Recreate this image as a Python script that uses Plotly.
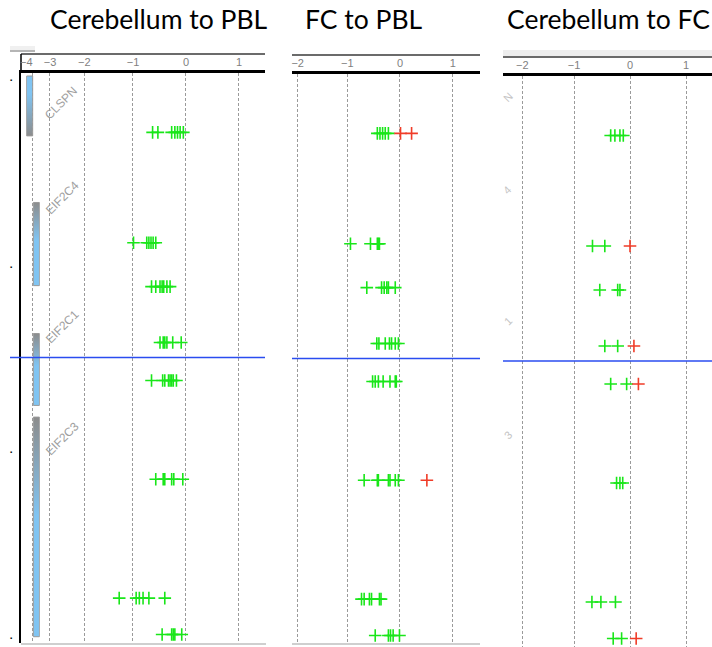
import plotly.graph_objects as go

# ---------------- data ----------------
panel_titles = ["Cerebellum to PBL", "FC to PBL", "Cerebellum to FC"]

# SNP row positions (relative genomic position, arbitrary units, top = 0)
snp_pos = [59.5, 170, 214, 270, 308, 407, 526, 562.5]

# fold changes per SNP row (green = below threshold, red = above)
cb_pbl_green = [
    [-0.63, -0.53, -0.27, -0.21, -0.16, -0.11, -0.05],
    [-0.99, -0.74, -0.70, -0.66, -0.62, -0.57],
    [-0.65, -0.57, -0.49, -0.45, -0.42, -0.36, -0.30],
    [-0.49, -0.43, -0.40, -0.36, -0.25, -0.09],
    [-0.65, -0.44, -0.40, -0.33, -0.30, -0.27, -0.24, -0.18],
    [-0.57, -0.43, -0.40, -0.27, -0.23, -0.06],
    [-1.26, -0.94, -0.88, -0.81, -0.70, -0.40],
    [-0.45, -0.27, -0.24, -0.21, -0.08],
]
cb_pbl_red = [[], [], [], [], [], [], [], []]

fc_pbl_green = [
    [-0.43, -0.38, -0.33, -0.28, -0.22],
    [-0.94, -0.56, -0.43, -0.41, -0.39],
    [-0.63, -0.35, -0.30, -0.25, -0.22, -0.09],
    [-0.44, -0.40, -0.28, -0.20, -0.16, -0.09, -0.03],
    [-0.52, -0.47, -0.41, -0.32, -0.19, -0.09, -0.07],
    [-0.68, -0.43, -0.41, -0.22, -0.19, -0.09, -0.03],
    [-0.73, -0.68, -0.58, -0.54, -0.39, -0.36],
    [-0.47, -0.22, -0.18, -0.13, -0.01],
]
fc_pbl_red = [[0.01, 0.22], [], [], [], [], [0.51], [], []]

cb_fc_green = [
    [-0.345, -0.27, -0.18, -0.12],
    [-0.67, -0.45],
    [-0.54, -0.22, -0.18],
    [-0.45, -0.22],
    [-0.345, -0.06],
    [-0.24, -0.18, -0.13],
    [-0.68, -0.52, -0.26],
    [-0.30, -0.15],
]
cb_fc_red = [[], [0.0], [], [0.07], [0.15], [], [], [0.11]]

# genes: name, start, end (same units as snp_pos), strand lane
gene_names = ["CLSPN", "EIF2C4", "EIF2C1", "EIF2C3"]
gene_start = [3, 129.7, 261, 344.7]
gene_end = [63, 213, 333, 564.7]
gene_lane = [0, 1, 1, 1]

highlight_pos = 285          # blue marker line
coord_ticks = [7, 194, 380, 566]  # genomic coordinate ticks (dots)

# axis tick labels (axis is compressed below -1)
p1_tickvals = [-2.887, -2.566, -1.919, -1, 0, 1]
p1_ticktext = ["", "\u22123", "\u22122", "\u22121", "0", "1"]
p2_tickvals = [-1.941, -1, 0, 1]
p2_ticktext = ["\u22122", "\u22121", "0", "1"]
p3_tickvals = [-1.923, -1, 0, 1]
p3_ticktext = ["\u22122", "\u22121", "0", "1"]

# ---------------- layout helpers ----------------
W, H = 712, 647
def fx(p):
    return p / W
def fy(p):
    return 1 - p / H

GREEN = "#19e619"
RED = "#f03c28"
BLUE = "#2a4df0"

fig = go.Figure()

panels = [
    ("x", "y", cb_pbl_green, cb_pbl_red),
    ("x2", "y2", fc_pbl_green, fc_pbl_red),
    ("x3", "y3", cb_fc_green, cb_fc_red),
]
for xa, ya, greens, reds in panels:
    for vals, col in ((greens, GREEN), (reds, RED)):
        xs, ys = [], []
        for pos, row in zip(snp_pos, vals):
            xs += row
            ys += [pos] * len(row)
        if xs:
            fig.add_trace(go.Scatter(
                x=xs, y=ys, xaxis=xa, yaxis=ya, mode="markers",
                marker=dict(symbol="cross-thin", size=9,
                            line=dict(color=col, width=1.6)),
                hoverinfo="x", showlegend=False))

# gene bars with gradient fill on a small gene-track axis
GENE_BLUE = "#80c4f2"
GENE_GRAY = "#8c8c8c"
for name, s, e, lane in zip(gene_names, gene_start, gene_end, gene_lane):
    x0, x1 = lane - 0.45, lane + 0.45
    if lane == 0:
        cs = [[0, GENE_BLUE], [0.3, GENE_BLUE], [1, GENE_GRAY]]
    else:
        cs = [[0, GENE_GRAY], [0.45, GENE_BLUE], [1, GENE_BLUE]]
    fig.add_trace(go.Scatter(
        x=[x0, x1, x1, x0, x0], y=[s, s, e, e, s], xaxis="x4", yaxis="y",
        mode="lines", fill="toself",
        fillgradient=dict(type="vertical", colorscale=cs, start=s, stop=e),
        line=dict(color="#9a9a9a", width=1), hoverinfo="skip",
        name=name, showlegend=False))

grid = dict(showgrid=True, gridcolor="#9a9a9a", gridwidth=1,
            griddash="3px,2px", zeroline=False, side="top",
            showline=True, linecolor="black", linewidth=3,
            ticks="", tickmode="array",
            tickfont=dict(family="Liberation Sans", size=11, color="#7f7f7f"),
            fixedrange=True)

fig.update_layout(
    width=W, height=H,
    margin=dict(l=0, r=0, t=0, b=0),
    paper_bgcolor="white", plot_bgcolor="rgba(0,0,0,0)",
    showlegend=False,
    xaxis=dict(domain=[fx(21), fx(265)], range=[-3.113, 1.491], anchor="y",
               tickvals=p1_tickvals, ticktext=p1_ticktext, **grid),
    xaxis2=dict(domain=[fx(292), fx(480)], range=[-2.049, 1.518], anchor="y2",
                tickvals=p2_tickvals, ticktext=p2_ticktext, **grid),
    xaxis3=dict(domain=[fx(503), fx(712)], range=[-2.268, 1.464], anchor="y3",
                tickvals=p3_tickvals, ticktext=p3_ticktext, **grid),
    xaxis4=dict(domain=[fx(26.2), fx(39.8)], range=[-0.5, 1.5], anchor="y",
                visible=False, fixedrange=True),
    yaxis=dict(domain=[fy(643), fy(73)], range=[571, 0], anchor="x",
               showgrid=False, zeroline=False, showline=True,
               linecolor="black", linewidth=1.5,
               tickmode="array", tickvals=coord_ticks,
               ticktext=["\u25aa"] * len(coord_ticks), ticks="",
               ticklabelstandoff=6,
               tickfont=dict(size=6, color="black"), fixedrange=True),
    yaxis2=dict(domain=[fy(644), fy(74)], range=[571, 0], anchor="x2",
                visible=False, fixedrange=True),
    yaxis3=dict(domain=[fy(647), fy(76)], range=[571, 0], anchor="x3",
                visible=False, fixedrange=True),
)

shapes = []
# header top lines
for x0, x1, y in ((21, 265, 54), (292, 480, 55), (503, 712, 57)):
    shapes.append(dict(type="line", xref="paper", yref="paper",
                       x0=fx(x0), x1=fx(x1), y0=fy(y), y1=fy(y),
                       line=dict(color="#3a3a3a", width=1.5)))
# left border of panel 1 header
shapes.append(dict(type="line", xref="paper", yref="paper",
                   x0=fx(21), x1=fx(21), y0=fy(54), y1=fy(73),
                   line=dict(color="black", width=1.5)))
# top-left tab
shapes.append(dict(type="rect", xref="paper", yref="paper",
                   x0=fx(10), x1=fx(35), y0=fy(51), y1=fy(46),
                   fillcolor="#f0f0f0", line=dict(width=0)))
shapes.append(dict(type="line", xref="paper", yref="paper",
                   x0=fx(10), x1=fx(35), y0=fy(51), y1=fy(51),
                   line=dict(color="#b5b5b5", width=2)))
# panel 3 header band
shapes.append(dict(type="rect", xref="paper", yref="paper",
                   x0=fx(503), x1=fx(712), y0=fy(56), y1=fy(50),
                   fillcolor="#eeeeee", line=dict(width=0)))
# bottom light borders
for x0, x1 in ((21, 266), (292, 480)):
    shapes.append(dict(type="line", xref="paper", yref="paper",
                       x0=fx(x0), x1=fx(x1), y0=fy(644), y1=fy(644),
                       line=dict(color="#cfcfcf", width=2)))
# blue highlight line
for ya, x0, x1 in (("y", 10, 265), ("y2", 292, 480), ("y3", 503, 712)):
    shapes.append(dict(type="line", xref="paper", yref=ya,
                       x0=fx(x0), x1=fx(x1), y0=highlight_pos, y1=highlight_pos,
                       line=dict(color=BLUE, width=1.6)))
fig.update_layout(shapes=shapes)

ann = []
for t, cx in zip(panel_titles, (159, 364, 608)):
    ann.append(dict(text=t, xref="paper", yref="paper", x=fx(cx), y=fy(19),
                    showarrow=False, xanchor="center", yanchor="middle",
                    font=dict(family="Lato", size=26.5, color="black")))
ann.append(dict(text="\u22124", xref="paper", yref="paper", x=fx(26), y=fy(62),
                showarrow=False, xanchor="center", yanchor="middle",
                font=dict(family="Liberation Sans", size=11, color="#7f7f7f")))
# gene labels
for name, (cx, cy) in zip(gene_names, ((61, 103), (62, 198), (62, 327), (62, 439))):
    ann.append(dict(text=name, xref="paper", yref="paper", x=fx(cx), y=fy(cy),
                    showarrow=False, textangle=-45, xanchor="center", yanchor="middle",
                    font=dict(family="Liberation Sans", size=12, color="#a0a0a0")))
# clipped gene-label fragments at left of panel 3
for frag, (cx, cy) in zip(["N", "4", "1", "3"], ((508, 97), (507, 190), (508, 321), (508, 435))):
    ann.append(dict(text=frag, xref="paper", yref="paper", x=fx(cx), y=fy(cy),
                    showarrow=False, textangle=-45, xanchor="center", yanchor="middle",
                    font=dict(family="Liberation Sans", size=11, color="#c4c4c4")))
fig.update_layout(annotations=ann)

fig.write_html("out.html", config={"displayModeBar": False},
               post_script="document.body.style.margin='0px';")
